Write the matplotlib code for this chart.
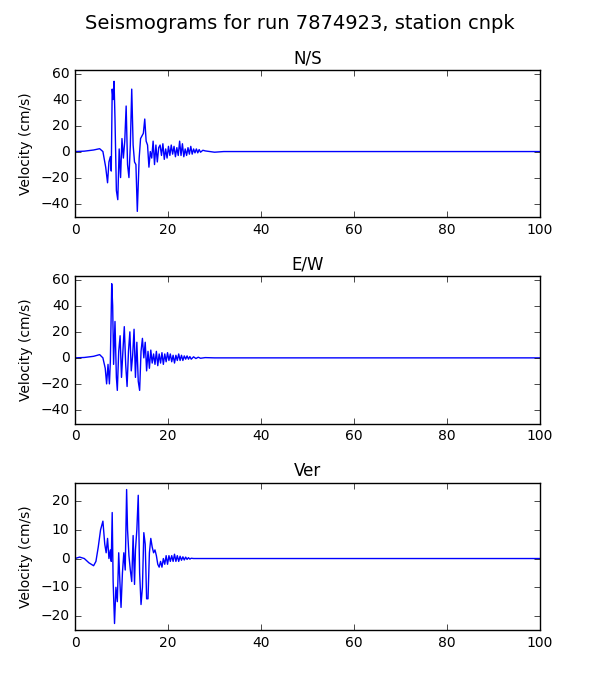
import matplotlib
matplotlib.use("Agg")
import matplotlib.pyplot as plt
import numpy as np
plt.style.use("classic")

# key points (time s, velocity cm/s)
ns_t = [0, 2, 4, 5.3, 6.0, 6.6, 7.0, 7.3, 7.6, 7.8, 8.0, 8.2, 8.4, 8.6, 8.9, 9.2, 9.5, 9.8, 10.1, 10.4, 10.7, 11.0, 11.3, 11.6, 11.9, 12.2, 12.5, 12.8, 13.1, 13.4, 13.8, 14.1, 14.4, 14.7, 15.0, 15.3, 15.6, 15.9, 16.2, 16.5, 16.8, 17.1, 17.4, 17.7, 18.0, 18.3, 18.6, 18.9, 19.2, 19.5, 19.8, 20.1, 20.4, 20.7, 21.0, 21.3, 21.6, 21.9, 22.2, 22.5, 22.8, 23.1, 23.4, 23.7, 24.0, 24.3, 24.6, 24.9, 25.2, 25.5, 25.8, 26.1, 26.4, 26.7, 27.0, 27.5, 28, 29, 30, 32, 35, 100]
ns_v = [0, 0.3, 1.2, 2.2, 0, -12, -24, -8, -4, -15, 48, 40, 54, 25, -30, -37, 2, -20, 10, -5, 8, 35, -10, -20, 5, 48, 5, -8, -10, -46, -5, 10, 12, 14, 25, 8, 5, -12, 0, -5, 8, -10, 5, -8, 3, 5, -3, 6, -6, 2, -5, 4, -3, 5, -2, 4, -4, 3, -3, 8, -3, 6, -4, 2, -3, 3, -2, 4, -2, 2, -1, 2, -1, 1.5, -0.5, 1, 0.5, 0, -0.5, 0, 0, 0]
ew_t = [0, 2, 4, 5.3, 6.0, 6.5, 6.8, 7.1, 7.4, 7.6, 7.9, 8.1, 8.3, 8.6, 8.9, 9.1, 9.4, 9.7, 10.0, 10.3, 10.6, 10.9, 11.2, 11.5, 11.8, 12.1, 12.4, 12.7, 13.0, 13.3, 13.6, 13.9, 14.2, 14.5, 14.8, 15.1, 15.4, 15.7, 16.0, 16.3, 16.6, 16.9, 17.2, 17.5, 17.8, 18.1, 18.4, 18.7, 19.0, 19.3, 19.6, 19.9, 20.2, 20.5, 20.8, 21.1, 21.4, 21.7, 22.0, 22.3, 22.6, 22.9, 23.2, 23.5, 23.8, 24.1, 24.4, 24.7, 25.0, 25.5, 26, 26.5, 27, 28, 30, 35, 100]
ew_v = [0, 0.3, 1.2, 2.5, 0, -8, -20, -5, -20, -3, 57, 40, -5, 28, -15, -25, 5, 17, -15, 5, 24, -5, -22, 5, 20, -10, 2, 22, -15, 12, -18, -25, 5, 15, 0, 12, -10, 5, -8, 6, -4, 3, -5, 5, -6, 3, -4, 4, -5, 3, -3, 4, -2, 3, -3, 2, -4, 2, -2, 3, -2, 2, -2, 1.5, -1, 1.5, -1, 1, -1, 0.8, -0.5, 0.5, -0.3, 0.2, 0, 0, 0]
ud_t = [0, 1, 2, 3, 4, 4.5, 5.0, 5.5, 6.0, 6.4, 6.7, 7.0, 7.3, 7.6, 7.8, 8.0, 8.2, 8.5, 8.8, 9.1, 9.4, 9.6, 9.9, 10.2, 10.5, 10.8, 11.1, 11.3, 11.6, 11.9, 12.2, 12.5, 12.8, 13.0, 13.3, 13.6, 13.9, 14.2, 14.5, 14.8, 15.1, 15.4, 15.7, 16.0, 16.3, 16.6, 16.9, 17.2, 17.5, 17.8, 18.1, 18.4, 18.7, 19.0, 19.3, 19.6, 19.9, 20.2, 20.5, 20.8, 21.1, 21.4, 21.7, 22.0, 22.3, 22.6, 22.9, 23.2, 23.5, 23.8, 24.1, 24.4, 24.7, 25.0, 25.5, 26, 27, 28, 30, 100]
ud_v = [0, 0.5, 0, -1.5, -2.5, -1, 4, 10, 13, 5, 2, 7, 0, 3, -1, 16, -8, -22.6, -10, -15, 2, -6, -17, -5, 2, -4, 24, 10, 1, -4, -8, 8, -9, 3, 10, 22, -5, -16, -10, 9, 5, -14, -14, 2, 7, 4, 2, 3, 1, -2, -3, -1, -3, 0, -2, 1, -2, 1, -1, 1, -1, 1.5, -1, 1, -1, 0.8, -0.6, 0.6, -0.5, 0.5, -0.3, 0.3, -0.2, 0.1, 0, 0, 0, 0, 0, 0]

titles = ["N/S", "E/W", "Ver"]
fig, axes = plt.subplots(3, 1, figsize=(6, 7), dpi=100)
fig.subplots_adjust(left=0.125, right=0.9, top=0.9, bottom=0.1, hspace=0.4)
fig.suptitle("Seismograms for run 7874923, station cnpk", fontsize=14)
hmax = max(max(ns_v), max(ew_v)) * 1.1
hmin = min(min(ns_v), min(ew_v)) * 1.1
for ax, t, v, ti in zip(axes, [ns_t, ew_t, ud_t], [ns_v, ew_v, ud_v], titles):
    ax.plot(t, v, color="b", lw=1)
    ax.set_title(ti, fontsize=12)
    ax.set_xlim(0, 100)
    ax.set_ylabel("Velocity (cm/s)", fontsize=10)
    ax.tick_params(labelsize=10)
    if ti == "Ver":
        ax.set_ylim(min(v) * 1.1, max(v) * 1.1)
        ax.set_yticks([-20, -10, 0, 10, 20])
    else:
        ax.set_ylim(hmin, hmax)
        ax.set_yticks([-40, -20, 0, 20, 40, 60])
fig.savefig("out.png", dpi=100)
